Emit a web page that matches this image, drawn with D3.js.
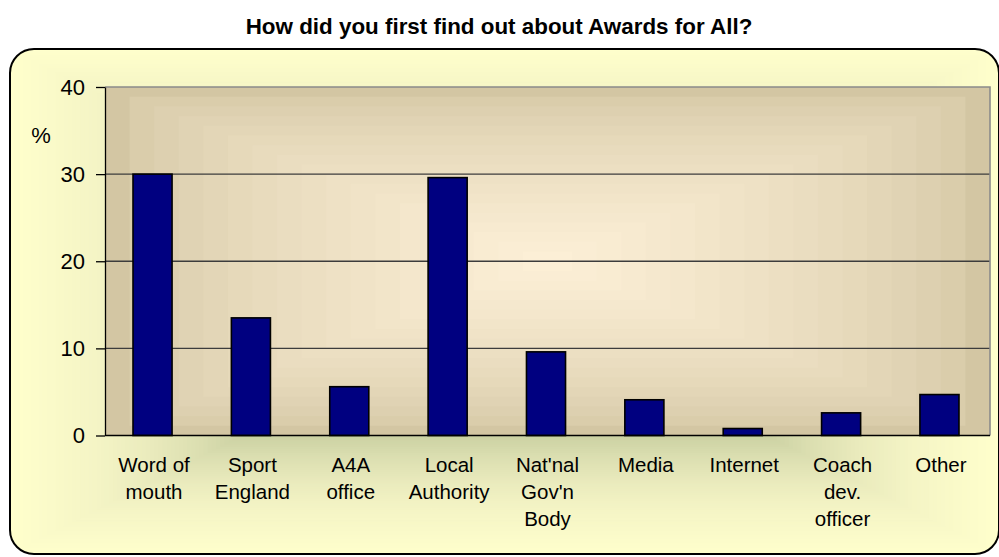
<!DOCTYPE html>
<html><head><meta charset="utf-8">
<script src="https://cdn.jsdelivr.net/npm/d3@7"></script>
<style>
body{margin:0;background:#fff}
svg{display:block}
text{font-family:"Liberation Sans",Arial,sans-serif;fill:#000}
</style>
</head><body>
<svg id="c" width="999" height="557"></svg>
<script>
const title = "How did you first find out about Awards for All?";
const categories = ["Word of\nmouth","Sport\nEngland","A4A\noffice","Local\nAuthority","Nat'nal\nGov'n\nBody","Media","Internet","Coach\ndev.\nofficer","Other"];
const values = [30.0, 13.5, 5.6, 29.6, 9.6, 4.1, 0.8, 2.6, 4.7];
const yTicks = [0, 10, 20, 30, 40];
const yLabel = "%";

const W = 999, H = 557;
const svg = d3.select("#c");
const defs = svg.append("defs");

// chart area frame
const frame = {x:10, y:49, w:989, h:505, r:24};
defs.append("clipPath").attr("id","fc").append("rect")
  .attr("x",frame.x).attr("y",frame.y).attr("width",frame.w).attr("height",frame.h)
  .attr("rx",frame.r).attr("ry",frame.r);
const fcx = frame.x + frame.w/2, fcy = frame.y + frame.h/2;
const chartCol = d3.scaleLinear()
  .domain([0, 0.53, 0.62, 0.72, 0.82, 1])
  .range(["#a8b080","#cbd1a3","#dcdfb1","#eaebbd","#f4f4c5","#ffffcc"])
  .interpolate(d3.interpolateRgb).clamp(true);
const gBg = svg.append("g").attr("clip-path","url(#fc)");
const NB = 120;
for (let i = 0; i < NB; i++) {
  const t = 1 - i/NB;
  gBg.append("rect")
    .attr("x", fcx - frame.w/2*t).attr("y", fcy - frame.h/2*t)
    .attr("width", frame.w*t).attr("height", frame.h*t)
    .attr("fill", chartCol(t - 0.5/NB));
}
svg.append("rect")
  .attr("x",frame.x).attr("y",frame.y).attr("width",frame.w).attr("height",frame.h)
  .attr("rx",frame.r).attr("ry",frame.r)
  .attr("fill","none").attr("stroke","#000").attr("stroke-width",2);

// plot area
const plot = {l:105, r:990, t:87, b:435.5};
const x = d3.scaleBand().domain(categories).range([plot.l, plot.r]).paddingInner(0.603).paddingOuter(0.3);
const y = d3.scaleLinear().domain([0, 40]).range([plot.b, plot.t]);

const pcx = (plot.l+plot.r)/2, pcy = (plot.t+plot.b)/2;
const pw = plot.r-plot.l, ph = plot.b-plot.t;
const plotCol = d3.interpolateRgb("#d3c6a3", "#fcefd6");
const NP = 18;
const gP = svg.append("g");
for (let i = 0; i < NP; i++) {
  const t = 1 - i/NP;
  gP.append("rect")
    .attr("x", pcx - pw/2*t).attr("y", pcy - ph/2*t)
    .attr("width", pw*t).attr("height", ph*t)
    .attr("fill", plotCol(Math.pow(i/(NP-1), 0.65)));
}

// gridlines
svg.append("g").selectAll("line").data(yTicks.filter(d => d > 0 && d < 40)).join("line")
  .attr("x1", plot.l).attr("x2", plot.r)
  .attr("y1", d => y(d)).attr("y2", d => y(d))
  .attr("stroke", "#3c3c3c").attr("stroke-width", 1.3);
// plot border top/right (gray)
svg.append("path")
  .attr("d", `M${plot.l},${y(40)}H${plot.r}V${plot.b}`)
  .attr("fill","none").attr("stroke","#8a8a8a").attr("stroke-width",1.6);

// bars
svg.append("g").selectAll("rect").data(values).join("rect")
  .attr("x", (d,i) => x(categories[i]) - 1.5)
  .attr("y", d => y(d))
  .attr("width", x.bandwidth())
  .attr("height", d => y(0) - y(d))
  .attr("fill", "#000080")
  .attr("stroke", "#000").attr("stroke-width", 1.6);

// y axis
const yAxis = svg.append("g").attr("transform", `translate(${plot.l},0)`)
  .call(d3.axisLeft(y).tickValues(yTicks).tickSize(9).tickSizeOuter(0).tickPadding(11).tickFormat(d3.format("d")));
yAxis.select(".domain").attr("stroke","#000").attr("stroke-width",1.3);
yAxis.selectAll(".tick line").attr("stroke","#000").attr("stroke-width",1.3);
yAxis.selectAll(".tick text").attr("font-size", 22).attr("font-family", '"Liberation Sans",Arial,sans-serif').attr("fill","#000");

// x axis line
svg.append("line").attr("x1", plot.l).attr("x2", plot.r).attr("y1", y(0)).attr("y2", y(0))
  .attr("stroke","#000").attr("stroke-width",1.5);

// category labels
const xl = svg.append("g");
categories.forEach(c => {
  const t = xl.append("text").attr("text-anchor","middle").attr("font-size", 20.5);
  c.split("\n").forEach((line, j) => {
    t.append("tspan").attr("x", x(c) + x.bandwidth()/2).attr("y", 472 + j*27).text(line);
  });
});

// y label
svg.append("text").attr("x", 41).attr("y", 143).attr("text-anchor","middle").attr("font-size", 22).text(yLabel);

// title
svg.append("text").attr("x", 499).attr("y", 34).attr("text-anchor","middle")
  .attr("font-size", 22.4).attr("font-weight","bold").text(title);
</script>
</body></html>
